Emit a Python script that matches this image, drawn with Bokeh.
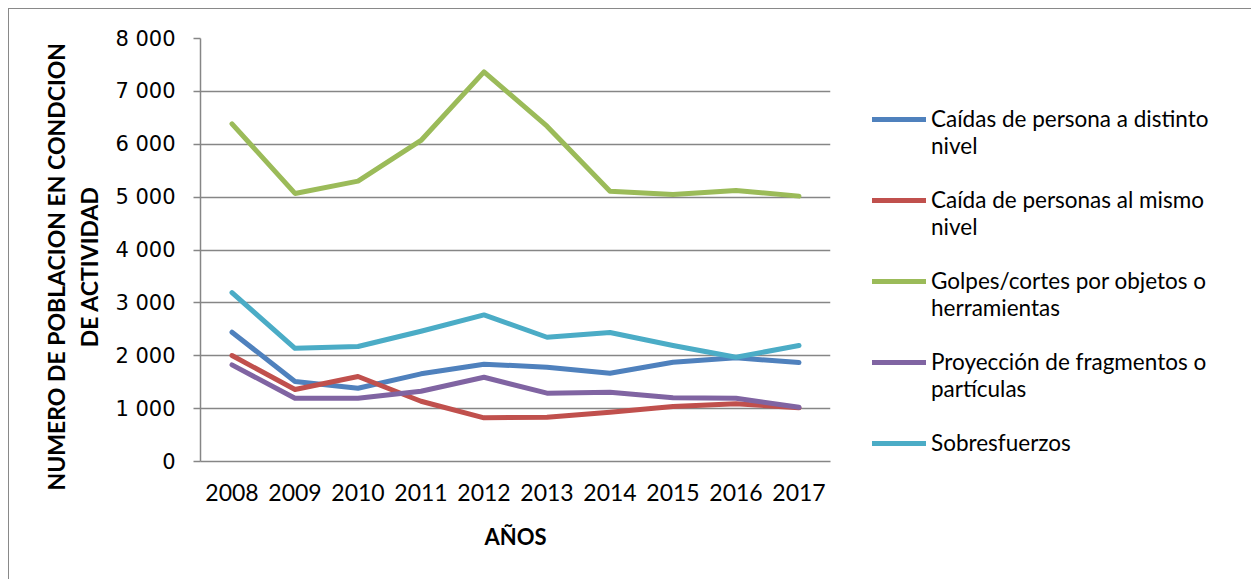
from bokeh.plotting import figure
from bokeh.layouts import row
from bokeh.models import Legend, LegendItem, FactorRange, Range1d, SingleIntervalTicker, CustomJSTickFormatter
from bokeh.embed import file_html
from bokeh.resources import INLINE

years = ["2008", "2009", "2010", "2011", "2012", "2013", "2014", "2015", "2016", "2017"]
caidas_distinto = [2445, 1512, 1386, 1658, 1840, 1783, 1670, 1878, 1960, 1871]
caida_mismo = [2004, 1361, 1607, 1140, 826, 838, 932, 1040, 1091, 1015]
golpes = [6386, 5070, 5302, 6072, 7369, 6342, 5113, 5050, 5127, 5019]
proyeccion = [1828, 1197, 1197, 1329, 1594, 1292, 1311, 1204, 1197, 1027]
sobresfuerzos = [3195, 2140, 2175, 2463, 2773, 2350, 2439, 2193, 1972, 2193]

series = [
    (["Caídas de persona a distinto", "nivel"], caidas_distinto, "#4F81BD"),
    (["Caída de personas al mismo", "nivel"], caida_mismo, "#C0504D"),
    (["Golpes/cortes por objetos o", "herramientas"], golpes, "#9BBB59"),
    (["Proyección de fragmentos o", "partículas"], proyeccion, "#8064A2"),
    (["Sobresfuerzos", "\u00a0"], sobresfuerzos, "#4BACC6"),
]
y_title_lines = ["NUMERO DE POBLACION EN CONDCION", "DE ACTIVIDAD"]
x_title = "AÑOS"

# ---------------- main chart ----------------
p = figure(x_range=FactorRange(*years, range_padding=0), y_range=Range1d(0, 8000),
           width=841, height=570, output_backend="svg", toolbar_location=None,
           min_border_left=191, min_border_right=20, min_border_top=29, min_border_bottom=118)
p.outline_line_color = None
p.background_fill_color = "white"

grid_col = "#868686"
p.xgrid.grid_line_color = None
p.ygrid.grid_line_color = grid_col
p.ygrid.grid_line_width = 1.5
p.yaxis.ticker = SingleIntervalTicker(interval=1000)
p.yaxis.formatter = CustomJSTickFormatter(code="""
const s = Math.round(tick).toString();
if (s.length > 3) { return s.slice(0, s.length-3) + '\\u00a0' + s.slice(s.length-3); }
return s;
""")
p.yaxis.axis_line_color = grid_col
p.yaxis.axis_line_width = 1.5
p.yaxis.major_tick_line_color = grid_col
p.yaxis.major_tick_line_width = 1.5
p.yaxis.major_tick_out = 7
p.yaxis.major_tick_in = 0
p.yaxis.minor_tick_line_color = None
p.yaxis.major_label_standoff = 18
p.yaxis.major_label_text_font = "DejaVu Sans"
p.yaxis.major_label_text_font_size = "21px"
p.yaxis.major_label_text_color = "black"
# trailing no-break spaces shift the centred title a little lower, as in the original
pad = "\u00a0" * 6
p.yaxis.axis_label = "\n".join(l + pad for l in y_title_lines)
p.yaxis.axis_label_text_font = "Lato"
p.yaxis.axis_label_text_font_style = "bold"
p.yaxis.axis_label_text_font_size = "23px"
p.yaxis.axis_label_text_color = "black"
p.yaxis.axis_label_text_line_height = 1.2
p.yaxis.axis_label_standoff = 9

p.xaxis.axis_line_color = grid_col
p.xaxis.axis_line_width = 1.5
p.xaxis.major_tick_line_color = None
p.xaxis.minor_tick_line_color = None
p.xaxis.major_label_standoff = 16
p.xaxis.major_label_text_font = "Lato"
p.xaxis.major_label_text_font_size = "23px"
p.xaxis.major_label_text_color = "black"
p.xaxis.axis_label = x_title
p.xaxis.axis_label_text_font = "Lato"
p.xaxis.axis_label_text_font_style = "bold"
p.xaxis.axis_label_text_font_size = "22px"
p.xaxis.axis_label_text_color = "black"
p.xaxis.axis_label_standoff = 19

for lines, vals, col in series:
    p.line(years, vals, line_color=col, line_width=5, line_cap="round", line_join="round")

# ---------------- legend panel ----------------
q = figure(x_range=Range1d(0, 1), y_range=Range1d(0, 1), width=401, height=570,
           output_backend="svg", toolbar_location=None,
           x_axis_location=None, y_axis_location=None,
           min_border_left=0, min_border_right=0, min_border_top=0, min_border_bottom=0)
q.outline_line_color = None
q.xgrid.grid_line_color = None
q.ygrid.grid_line_color = None

items = []
nan = float("nan")
for lines, vals, col in series:
    # legend proxy (draws nothing in the panel itself)
    r = q.line(x=[nan], y=[nan], line_color=col, line_width=5, line_cap="round")
    # three text rows so that the swatch sits on the first row of each entry
    label = "\n".join(["\u00a0", lines[0], lines[1]])
    items.append(LegendItem(label=label, renderers=[r]))

legend = Legend(items=items, location=(22, -22), orientation="vertical", ncols=1,
                border_line_alpha=0, background_fill_alpha=0, padding=0, margin=0,
                glyph_width=54, glyph_height=20, label_height=20, spacing=0,
                label_standoff=5, label_text_font="Lato", label_text_font_size="22.5px",
                label_text_color="black")
q.add_layout(legend)

layout = row(p, q, spacing=0)
layout.styles = {"margin-left": "8px", "margin-top": "8px",
                 "border-top": "1px solid #898989", "border-left": "1px solid #898989"}

open("out.html", "w").write(file_html(layout, INLINE))
